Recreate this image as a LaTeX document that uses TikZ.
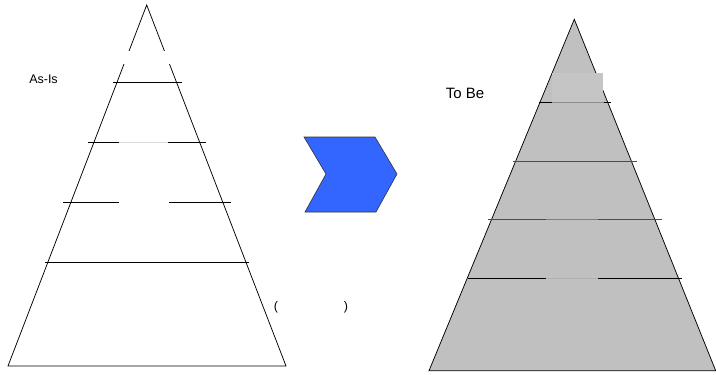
\documentclass[tikz,border=0pt]{standalone}
\usepackage{fontspec}
\setmainfont{Liberation Sans}
\definecolor{pyrgray}{HTML}{C0C0C0}
\definecolor{boxgray}{HTML}{C5C5C5}
\definecolor{chevblue}{HTML}{3366FF}
\begin{document}
\begin{tikzpicture}[x=1pt,y=-1pt,
  edge/.style={draw=black,line width=0.75pt},
  midline/.style={draw=#1,line width=0.75pt},
  lbl/.style={font=\fontsize{12.5}{14}\selectfont,inner sep=0pt},
  biglbl/.style={font=\fontsize{15}{17}\selectfont,inner sep=0pt}]
\useasboundingbox (0,0) rectangle (716,375);
% ---- left pyramid (As-Is)
\draw[edge] (146.7,5) -- (8,366) -- (286,366) -- cycle;
\fill[white] (115,51) rectangle (180,64);
\draw[edge] (113,82) -- (182,82);
\draw[edge] (88,142) -- (119,142);
\draw[midline=black!15] (119,142) -- (168,142);
\draw[edge] (168,142) -- (206,142);
\draw[edge] (63,202) -- (119,202);
\draw[edge] (169,202) -- (231,202);
\draw[edge] (45,262) -- (249,262);
\node[lbl] (asis) at (43.5,79) {As-Is};
\node[lbl] (lp) at (276,307) {(};
\node[lbl] (rp) at (346,307) {)};
% ---- chevron
\draw[fill=chevblue,draw=black!80,line width=0.6pt]
  (304,137) -- (375,137) -- (397,174) -- (376,212) -- (305,212) -- (326,174) -- cycle;
% ---- right pyramid (To Be)
\draw[edge,fill=pyrgray] (574.3,19.3) -- (429,370.7) -- (715.7,370.7) -- cycle;
\fill[boxgray] (552,73) rectangle (603,103);
\draw[edge] (539,102.7) -- (552,102.7);
\draw[midline=black!45] (552,102.7) -- (604,102.7);
\draw[edge] (604,102.7) -- (611,102.7);
\draw[midline=black!70] (513,161.3) -- (637,161.3);
\draw[midline=black!70] (488,219.7) -- (546,219.7);
\draw[midline=black!50] (546,219.7) -- (598,219.7);
\draw[midline=black!70] (598,219.7) -- (662,219.7);
\draw[edge] (468,278.3) -- (546,278.3);
\draw[midline=black!30] (546,278.3) -- (598,278.3);
\draw[edge] (598,278.3) -- (682,278.3);
\node[biglbl] (tobe) at (465,93) {To Be};
\end{tikzpicture}
\end{document}
